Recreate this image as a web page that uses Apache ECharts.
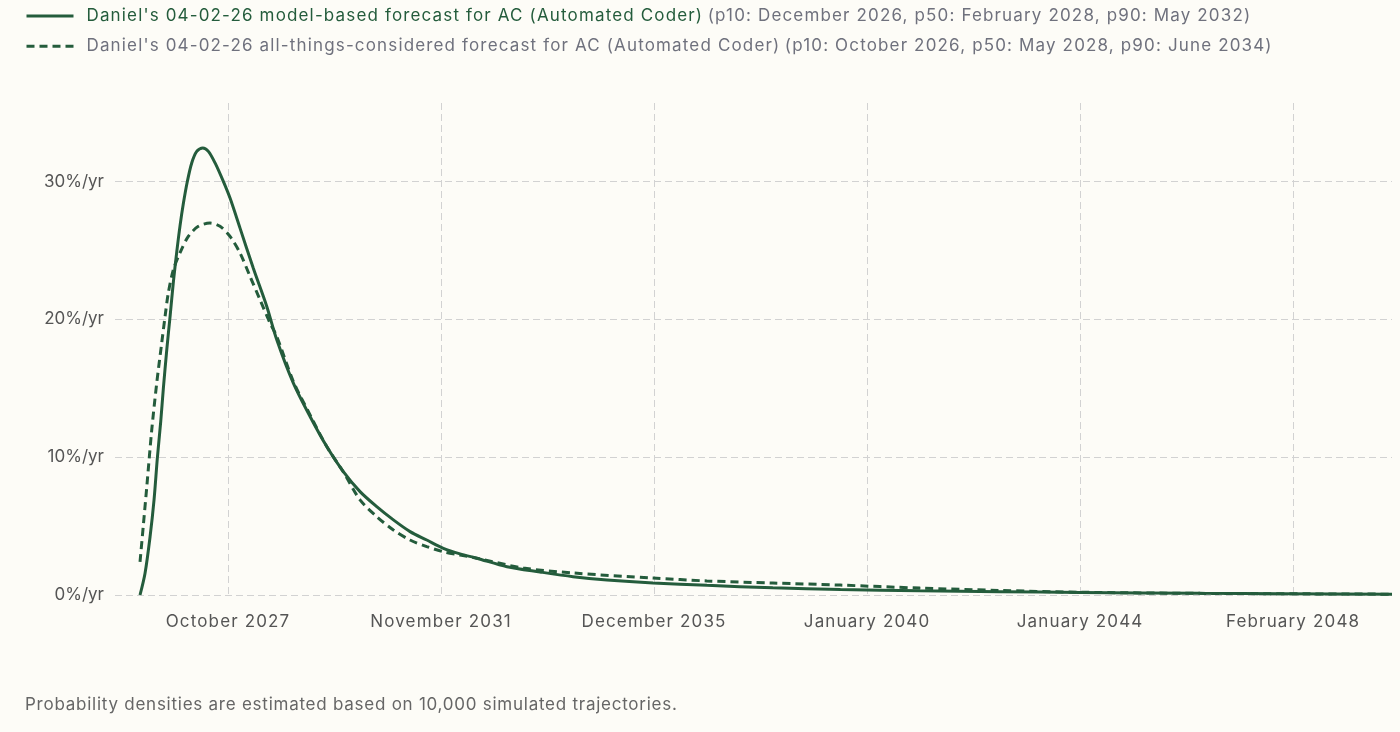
<!DOCTYPE html>
<html>
<head>
<meta charset="utf-8">
<script src="https://cdn.jsdelivr.net/npm/echarts@6/dist/echarts.min.js"></script>
<style>
  html, body { margin: 0; padding: 0; background: #fdfcf7; }
  #chart { width: 1400px; height: 732px; }
</style>
</head>
<body>
<div id="chart"></div>
<script>
// x values are decimal years, y values in %/yr
var modelYears = [2026.108, 2026.204, 2026.300, 2026.376, 2026.439, 2026.504, 2026.554, 2026.619, 2026.682, 2026.745,
  2026.810, 2026.873, 2026.936, 2027.012, 2027.096, 2027.192, 2027.307, 2027.414, 2027.542, 2027.700,
  2027.828, 2028.019, 2028.273, 2028.530, 2028.721, 2029.038, 2029.357, 2029.676, 2029.993, 2030.312,
  2030.631, 2030.949, 2031.268, 2031.587, 2031.904, 2032.223, 2032.542, 2033.12, 2033.75, 2034.38,
  2035.03, 2035.91, 2036.94, 2038.20, 2039.49, 2041.01, 2042.54, 2044.07, 2046.36, 2050.03];
var modelValues = [0, 1.58, 4.23, 6.90, 9.93, 12.6, 15.0, 17.79, 20.2, 22.7,
  24.9, 26.8, 28.4, 30.0, 31.35, 32.19, 32.44, 32.19, 31.35, 30.01,
  28.80, 26.62, 23.71, 20.94, 18.52, 15.37, 12.95, 10.77, 8.95, 7.50,
  6.41, 5.45, 4.60, 3.99, 3.39, 2.98, 2.67, 2.05, 1.67, 1.33,
  1.09, 0.87, 0.70, 0.52, 0.40, 0.30, 0.24, 0.19, 0.12, 0.06];

var allYears = [2026.108, 2026.172, 2026.237, 2026.332, 2026.428, 2026.523, 2026.586, 2026.649, 2026.745, 2026.873,
  2027.031, 2027.222, 2027.446, 2027.637, 2027.828, 2028.019, 2028.210, 2028.401, 2028.593, 2028.721,
  2029.038, 2029.357, 2029.676, 2029.993, 2030.312, 2030.631, 2030.949, 2031.268, 2031.587, 2031.904,
  2032.223, 2032.542, 2033.43, 2034.38, 2035.91, 2036.94, 2038.20, 2039.49, 2041.01, 2042.54,
  2044.07, 2046.36, 2050.03];
var allValues = [2.40, 5.08, 7.84, 11.98, 15.40, 18.30, 20.19, 21.93, 23.60, 24.84,
  26.02, 26.75, 26.99, 26.75, 26.02, 24.81, 23.12, 21.42, 19.73, 18.76,
  15.49, 13.07, 10.77, 8.93, 6.90, 5.69, 4.72, 3.99, 3.51, 3.14,
  2.90, 2.67, 1.96, 1.60, 1.23, 1.02, 0.87, 0.72, 0.50, 0.33,
  0.20, 0.12, 0.06];

var tickYears = [2027.79, 2031.86, 2035.93, 2040.00, 2044.07, 2048.14];
var tickLabels = ['October 2027', 'November 2031', 'December 2035', 'January 2040', 'January 2044', 'February 2048'];
var yTicks = [0, 10, 20, 30];

var seriesNames = ['model', 'all'];
var legendMain = [
  "Daniel's 04-02-26 model-based forecast for AC (Automated Coder)",
  "Daniel's 04-02-26 all-things-considered forecast for AC (Automated Coder)"
];
var legendSub = [
  '(p10: December 2026, p50: February 2028, p90: May 2032)',
  '(p10: October 2026, p50: May 2028, p90: June 2034)'
];

var green = '#245c3c';
var wideFont = 'Inter';             // legend + x labels, tracked out
var plainFont = 'Inter, Roboto';    // y labels
var noteFont = 'Inter, Lato';       // footnote

// the reference type is tracked out a bit; canvas has letterSpacing, zrender doesn't expose it
function spacingFor(f) {
  if (f.indexOf('Roboto') >= 0) return '0px';
  if (f.indexOf('Lato') >= 0) return '0.75px';
  return '1.15px';
}
var proto = CanvasRenderingContext2D.prototype;
var origFill = proto.fillText, origMeasure = proto.measureText;
proto.fillText = function() { this.letterSpacing = spacingFor(this.font); return origFill.apply(this, arguments); };
proto.measureText = function() { this.letterSpacing = spacingFor(this.font); return origMeasure.apply(this, arguments); };

function pairs(xs, ys) {
  return xs.map(function(x, i) { return [x, ys[i]]; });
}

var chart = echarts.init(document.getElementById('chart'));
chart.setOption({
  backgroundColor: '#fdfcf7',
  animation: false,
  textStyle: { fontFamily: wideFont },
  legend: {
    orient: 'vertical',
    left: 20,
    top: 2,
    itemWidth: 47,
    itemHeight: 14,
    itemGap: 12,
    data: seriesNames,
    itemStyle: { opacity: 0 },
    lineStyle: { width: 3 },
    formatter: function(name) {
      var i = seriesNames.indexOf(name);
      var main = i === 0 ? '{g|' + legendMain[i] + '}' : '{s|' + legendMain[i] + '}';
      return main + ' {s|' + legendSub[i] + '}';
    },
    textStyle: {
      padding: [0, 0, 0, 8],
      rich: {
        g: { color: green, fontSize: 17, fontFamily: wideFont },
        s: { color: '#6f717d', fontSize: 17, fontFamily: wideFont }
      }
    }
  },
  grid: { left: 115, right: 8, top: 103, bottom: 137 },
  xAxis: {
    type: 'value',
    min: 2025.63,
    max: 2050.03,
    axisLine: { show: false },
    axisTick: { show: false, customValues: tickYears },
    axisLabel: {
      customValues: tickYears,
      margin: 18,
      color: '#555',
      fontSize: 17,
      fontFamily: wideFont,
      formatter: function(v) {
        for (var i = 0; i < tickYears.length; i++) {
          if (Math.abs(tickYears[i] - v) < 0.01) return tickLabels[i];
        }
        return '';
      }
    },
    splitLine: { show: true, lineStyle: { color: '#d2d2d2', type: [7, 4], width: 1 } }
  },
  yAxis: {
    type: 'value',
    min: 0,
    max: 35.7,
    axisLine: { show: false },
    axisTick: { show: false, customValues: yTicks },
    axisLabel: {
      customValues: yTicks,
      margin: 11,
      color: '#555',
      fontSize: 17,
      fontFamily: plainFont,
      formatter: function(v) { return v + '%/yr'; }
    },
    splitLine: { show: true, lineStyle: { color: '#d2d2d2', type: [7, 4], width: 1 } }
  },
  series: [
    {
      name: 'model',
      type: 'line',
      smooth: 0.3,
      symbol: 'none',
      data: pairs(modelYears, modelValues),
      lineStyle: { color: green, width: 3 },
      itemStyle: { color: green },
      z: 3
    },
    {
      name: 'all',
      type: 'line',
      smooth: 0.3,
      symbol: 'none',
      data: pairs(allYears, allValues),
      lineStyle: { color: green, width: 3, type: [8, 5] },
      itemStyle: { color: green },
      z: 2
    }
  ],
  graphic: [{
    type: 'text',
    left: 25,
    top: 696,
    style: {
      text: 'Probability densities are estimated based on 10,000 simulated trajectories.',
      fill: '#666',
      fontSize: 17,
      fontFamily: noteFont
    }
  }]
});
</script>
</body>
</html>
